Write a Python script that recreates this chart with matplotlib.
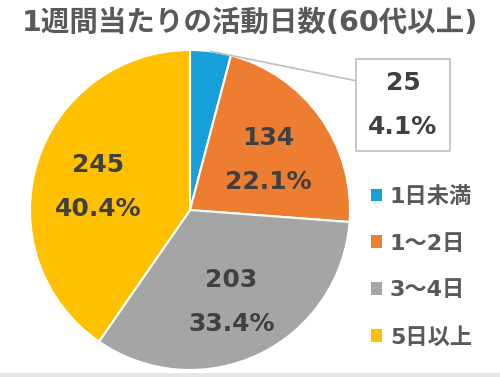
import matplotlib.pyplot as plt
import numpy as np

plt.rcParams['font.family'] = ['DejaVu Sans', 'Noto Sans CJK JP']

categories = ['1日未満', '1～2日', '3～4日', '5日以上']
counts = [25, 134, 203, 245]
percents = ['4.1%', '22.1%', '33.4%', '40.4%']
colors = ['#169FD8', '#ED7D31', '#A5A5A5', '#FFC000']
title = '1週間当たりの活動日数(60代以上)'

fig = plt.figure(figsize=(5, 3.77), dpi=100)
fig.patch.set_facecolor('white')

# pie area: center ~(190,210) px, radius ~160 px
ax = fig.add_axes([30 / 500, 7 / 377, 320 / 500, 320 / 377])
wedges, _ = ax.pie(counts, colors=colors, startangle=90, counterclock=False,
                   radius=1, wedgeprops=dict(edgecolor='white', linewidth=1.5))
ax.set_xlim(-1, 1)
ax.set_ylim(-1, 1)
ax.set_aspect('equal')
ax.axis('off')

text_color = '#404040'
for i, w in enumerate(wedges):
    if i == 0:
        continue
    mid = np.deg2rad((w.theta1 + w.theta2) / 2)
    r = 0.6
    x, y = r * np.cos(mid), r * np.sin(mid) - 0.035
    ax.text(x, y, f'{counts[i]}\n{percents[i]}', ha='center', va='center',
            fontsize=18, fontweight='bold', color=text_color, linespacing=2.05)

# callout for the small slice
w = wedges[0]
mid = np.deg2rad((w.theta1 + w.theta2) / 2)
ax.annotate(f'{counts[0]}\n{percents[0]}', xy=(np.cos(mid), np.sin(mid)),
            xycoords='data', xytext=(403 / 500, 1 - 105 / 377),
            textcoords='figure fraction', ha='center', va='center',
            fontsize=18, fontweight='bold', color=text_color, linespacing=2.05,
            bbox=dict(boxstyle='square,pad=0.5', fc='white', ec='#BFBFBF', lw=1.2),
            arrowprops=dict(arrowstyle='-', color='#BFBFBF', lw=1.2,
                            shrinkA=0, shrinkB=0, relpos=(0, 0.82)),
            annotation_clip=False)

fig.text(0.5, 1 - 23 / 377, title, ha='center', va='center', fontsize=20.5,
         fontweight='bold', color='#595959')

leg = fig.legend(wedges, categories, loc='upper left',
                 bbox_to_anchor=(351 / 500, 1 - 166 / 377), frameon=False,
                 handlelength=0.5, handleheight=0.5, handletextpad=0.35,
                 labelspacing=1.2, prop=dict(size=16, weight='bold'))
for t in leg.get_texts():
    t.set_color('#595959')
for h in leg.legend_handles:
    h.set_edgecolor('none')

# thin gray strip along the bottom edge
fig.add_artist(plt.Rectangle((0, 0), 1, 4 / 377, transform=fig.transFigure,
                             color='#E6E6E6', lw=0))

fig.savefig('out.png', dpi=100)
